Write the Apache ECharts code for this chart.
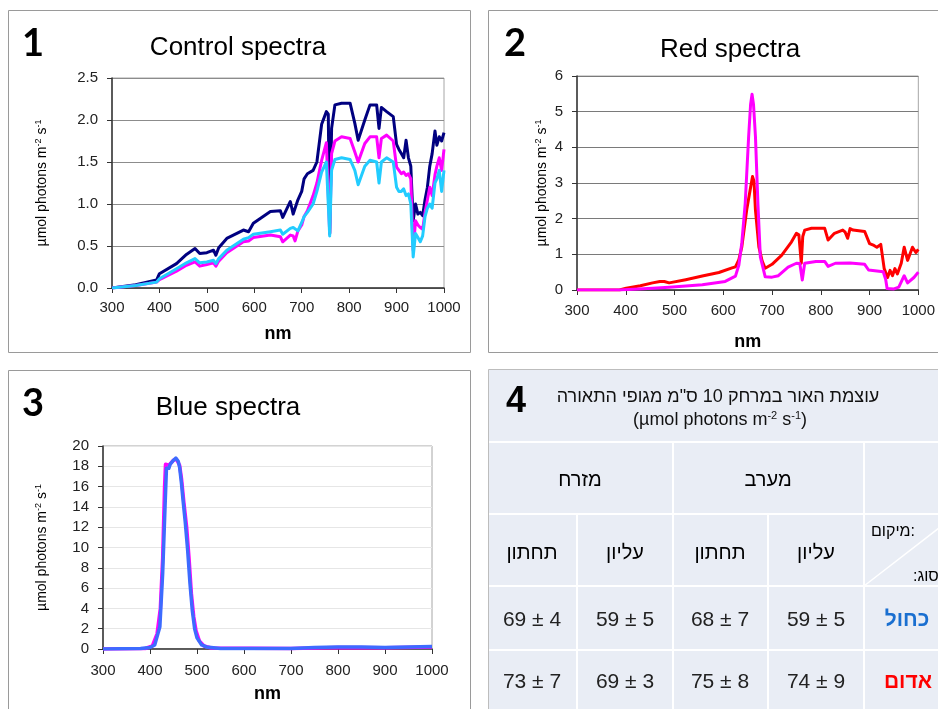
<!DOCTYPE html>
<html><head><meta charset="utf-8">
<script src="https://cdn.jsdelivr.net/npm/echarts@6/dist/echarts.min.js"></script>
<style>html,body{margin:0;padding:0;background:#fff;}#c{width:938px;height:709px;}</style>
</head><body><div id="c"></div>
<script>
// ---- Panel 1: Control spectra ----
const ctrlNm = [300,350,394,400,436,457,475,485,500,514,519,525,542,577,588,598,634,655,660,676,682,686,692,700,705,712,724,732,742,752,756,759,763,770,784,802,812,819,833,844,858,863,868,879,893,900,905,910,915,920,925,930,935,940,945,950,955,960,965,970,975,981,985,990,995,1000];
const ctrlNavy = [0,0.04,0.095,0.17,0.29,0.40,0.47,0.41,0.42,0.45,0.39,0.48,0.59,0.69,0.67,0.77,0.91,0.92,0.84,1.03,0.88,0.95,1.05,1.15,1.30,1.36,1.40,1.50,1.95,2.10,2.07,0.65,1.90,2.18,2.20,2.20,1.96,1.76,2.00,2.18,2.18,1.90,2.15,2.10,2.04,1.71,1.65,1.60,1.55,1.76,1.55,1.45,0.80,1.00,0.88,0.90,0.86,1.05,1.20,1.45,1.60,1.87,1.70,1.80,1.75,1.85];
const ctrlMagenta = [0,0.03,0.07,0.10,0.20,0.27,0.31,0.26,0.28,0.30,0.26,0.32,0.42,0.55,0.56,0.60,0.63,0.61,0.55,0.63,0.62,0.56,0.68,0.75,0.85,0.92,1.10,1.25,1.52,1.73,1.74,0.65,1.60,1.75,1.80,1.78,1.62,1.50,1.72,1.80,1.80,1.55,1.78,1.82,1.75,1.44,1.40,1.36,1.38,1.34,1.36,1.30,0.45,0.80,0.75,0.72,0.70,0.90,1.05,1.20,1.10,1.35,1.45,1.55,1.40,1.65];
const ctrlCyan = [0,0.03,0.07,0.11,0.23,0.30,0.35,0.30,0.31,0.33,0.29,0.35,0.45,0.58,0.60,0.64,0.67,0.69,0.64,0.71,0.72,0.73,0.68,0.78,0.85,0.90,1.00,1.15,1.38,1.50,1.50,0.62,1.40,1.53,1.55,1.53,1.40,1.23,1.45,1.52,1.50,1.25,1.50,1.55,1.50,1.20,1.15,1.15,1.18,1.10,1.12,1.00,0.37,0.65,0.60,0.55,0.62,0.85,0.95,1.00,0.95,1.25,1.30,1.40,1.15,1.40];

// ---- Panel 2: Red spectra ----
const redNm = [300,387,401,430,455,470,479,489,523,557,591,618,625,632,638,648,655,660,663,666,673,680,686,700,720,740,750,755,760,763,767,781,808,815,828,845,850,855,860,866,890,900,909,915,923,930,937,942,947,952,957,965,971,978,988,995,1000];
const redRed = [0,0,0.05,0.12,0.2,0.24,0.24,0.2,0.29,0.39,0.49,0.62,0.65,0.85,1.21,2.24,2.8,3.18,3.05,2.24,1.21,0.8,0.61,0.72,0.98,1.35,1.59,1.55,0.75,1.5,1.68,1.73,1.73,1.4,1.59,1.68,1.62,1.45,1.72,1.68,1.64,1.3,1.25,1.2,1.28,0.6,0.35,0.55,0.4,0.6,0.45,0.75,1.2,0.83,1.2,1.05,1.14];
const redPinkNm = [300,387,455,489,557,604,625,632,638,645,652,656,659,662,666,671,676,686,700,713,733,750,757,762,767,790,808,815,830,860,890,898,928,933,936,950,960,971,978,991,1000];
const redPink = [0,0,0.05,0.08,0.15,0.24,0.39,0.7,1.32,2.43,4.3,5.2,5.49,5.2,4.3,2.43,0.93,0.37,0.36,0.4,0.64,0.75,0.74,0.28,0.75,0.8,0.8,0.66,0.75,0.76,0.72,0.56,0.51,0.3,0.04,0.03,0.08,0.4,0.2,0.35,0.5];

// ---- Panel 3: Blue spectra ----
const blueNm = [300,380,400,410,421,427,432,435,440,443,450,455,460,463,467,470,475,480,485,490,495,500,510,520,550,700,750,800,850,900,950,1000];
const blueBlue = [0,0.05,0.15,0.4,2.2,7.5,14,17.8,17.8,18.2,18.6,18.8,18.5,17.9,16.3,14.8,12.5,9.8,6.5,3.8,2.0,1.1,0.4,0.2,0.05,0.05,0.15,0.2,0.2,0.15,0.2,0.25];
const bluePinkNm = [300,390,405,415,422,427,431,433,440,450,456,463,467,472,478,483,488,493,498,505,515,530,700,800,900,1000];
const bluePink = [0,0.05,0.3,1.5,4,9,16,18.2,18.1,18.6,18.7,18.1,16.8,14.5,12.0,9.0,5.5,3.2,1.8,0.8,0.3,0.1,0.05,0.15,0.12,0.2];

// ---- Panel 4: table ----
const tblTitle = 'עוצמת האור במרחק 10 ס"מ מגופי התאורה';
const tblSides = ['מזרח', 'מערב'];
const tblLevels = ['תחתון', 'עליון', 'תחתון', 'עליון'];
const tblRowHeads = ['כחול', 'אדום'];
const tblBlue = ['69 ± 4', '59 ± 5', '68 ± 7', '59 ± 5'];
const tblRed = ['73 ± 7', '69 ± 3', '75 ± 8', '74 ± 9'];
const tblCornerTop = 'מיקום:';
const tblCornerBottom = ':סוג';

const FONT = '"Liberation Sans", Arial, sans-serif';
const pairs = (xs, ys) => xs.map((x, i) => [x, ys[i]]);

const yName = '{a|µmol photons m}{s|-2}{a| s}{s|-1}';
const yNameStyle = {
  fontFamily: FONT, color: '#000',
  rich: {
    a: {fontSize: 14, lineHeight: 16, fontFamily: FONT, color: '#000'},
    s: {fontSize: 9, fontFamily: FONT, color: '#000', verticalAlign: 'top'}
  }
};

function xAx(gi, margin, gap) {
  return {
    type: 'value', gridIndex: gi, min: 300, max: 1000, interval: 100,
    axisLine: {show: true, onZero: false, lineStyle: {color: '#333', width: 1.5}},
    axisTick: {show: true, length: 5, lineStyle: {color: '#333'}},
    axisLabel: {fontSize: 15, color: '#222', fontFamily: FONT, margin: margin, formatter: v => String(v)},
    splitLine: {show: false},
    name: 'nm', nameLocation: 'middle', nameGap: gap,
    nameTextStyle: {fontSize: 18, fontWeight: 'bold', fontFamily: FONT, color: '#000'}
  };
}
function yAx(gi, max, interval, gridColor, gap, fmt) {
  return {
    type: 'value', gridIndex: gi, min: 0, max: max, interval: interval,
    axisLine: {show: true, lineStyle: {color: '#333', width: 1.5}},
    axisTick: {show: true, length: 5, lineStyle: {color: '#333'}},
    axisLabel: {fontSize: 15, color: '#222', fontFamily: FONT, margin: 14, formatter: fmt},
    splitLine: {show: true, lineStyle: {color: gridColor, width: 1}},
    name: yName, nameLocation: 'middle', nameGap: gap, nameTextStyle: yNameStyle
  };
}
function line(xi, data, color, w) {
  return {type: 'line', xAxisIndex: xi, yAxisIndex: xi, data: data, showSymbol: false, symbol: 'none',
    lineStyle: {color: color, width: w, join: 'round'}, itemStyle: {color: color}, animation: false, silent: true};
}
function txt(x, y, text, size, opts) {
  return {type: 'text', x: x, y: y, silent: true, style: Object.assign({
    text: text, fontSize: size, fontFamily: FONT, fill: '#000',
    align: 'center', verticalAlign: 'middle', textAlign: 'center', textVerticalAlign: 'middle'
  }, opts || {})};
}
function hline(x1, x2, y) { return {type: 'line', silent: true, shape: {x1: x1, y1: y, x2: x2, y2: y}, style: {stroke: '#fff', lineWidth: 2}}; }
function vline(x, y1, y2) { return {type: 'line', silent: true, shape: {x1: x, y1: y1, x2: x, y2: y2}, style: {stroke: '#fff', lineWidth: 2}}; }

const colX = [532, 625, 720, 816];
const graphics = [
  {type: 'rect', silent: true, shape: {x: 8.5, y: 10.5, width: 462, height: 342}, style: {fill: 'none', stroke: '#9a9a9a', lineWidth: 1}},
  {type: 'rect', silent: true, shape: {x: 488.5, y: 10.5, width: 460, height: 342}, style: {fill: 'none', stroke: '#9a9a9a', lineWidth: 1}},
  {type: 'rect', silent: true, shape: {x: 8.5, y: 370.5, width: 462, height: 350}, style: {fill: 'none', stroke: '#9a9a9a', lineWidth: 1}},
  {type: 'rect', silent: true, shape: {x: 488.5, y: 369.5, width: 460, height: 350}, style: {fill: '#e9edf5', stroke: '#bdbdbd', lineWidth: 1}},
  txt(33, 44, '1', 38, {fontWeight: 'bold', fontFamily: 'Lato, ' + FONT}),
  txt(515, 44, '2', 38, {fontWeight: 'bold', fontFamily: 'Lato, ' + FONT}),
  txt(33, 404, '3', 38, {fontWeight: 'bold', fontFamily: 'Lato, ' + FONT}),
  txt(516, 402, '4', 36, {fontWeight: 'bold'}),
  txt(238, 48, 'Control spectra', 26),
  txt(730, 50, 'Red spectra', 26),
  txt(228, 408, 'Blue spectra', 26),
  hline(489, 938, 442),
  vline(673, 442, 709), vline(864, 442, 709),
  hline(489, 938, 514),
  vline(577, 514, 709), vline(768, 514, 709),
  hline(489, 938, 586),
  hline(489, 938, 650),
  {type: 'line', silent: true, shape: {x1: 864, y1: 586, x2: 957, y2: 514}, style: {stroke: '#fff', lineWidth: 1.5}},
  txt(718, 397, tblTitle, 18, {fill: '#111'}),
  txt(720, 420, '{a|(µmol photons m}{s|-2}{a| s}{s|-1}{a|)}', 18, {rich: {
    a: {fontSize: 18, lineHeight: 20, fontFamily: FONT, fill: '#111'},
    s: {fontSize: 11, fontFamily: FONT, fill: '#111', verticalAlign: 'top'}}}),
  txt(580, 480, tblSides[0], 20),
  txt(768, 480, tblSides[1], 20),
  txt(893, 532, tblCornerTop, 16),
  txt(913, 577, tblCornerBottom, 16, {align: 'left', textAlign: 'left'}),
  txt(907, 620, tblRowHeads[0], 21, {fontWeight: 'bold', fill: '#1a6fd0'}),
  txt(908, 682, tblRowHeads[1], 21, {fontWeight: 'bold', fill: '#ff0000'})
];
tblLevels.forEach((t, i) => graphics.push(txt(colX[i], 553, t, 20)));
tblBlue.forEach((t, i) => graphics.push(txt(colX[i], 620, t, 21, {fill: '#222'})));
tblRed.forEach((t, i) => graphics.push(txt(colX[i], 682, t, 21, {fill: '#222'})));

const chart = echarts.init(document.getElementById('c'), null, {renderer: 'canvas'});
chart.setOption({
  animation: false,
  backgroundColor: '#fff',
  grid: [
    {left: 112, top: 78, width: 332, height: 210, show: true, borderColor: '#a6a6a6', borderWidth: 1, backgroundColor: 'transparent'},
    {left: 577, top: 76, width: 344, height: 214, show: true, borderColor: '#a6a6a6', borderWidth: 1, backgroundColor: 'transparent'},
    {left: 103, top: 446, width: 329, height: 203, show: true, borderColor: '#a6a6a6', borderWidth: 1, backgroundColor: 'transparent'}
  ],
  xAxis: [xAx(0, 12, 37), xAx(1, 13, 43), xAx(2, 14, 36)],
  yAxis: [
    yAx(0, 2.5, 0.5, '#8c8c8c', 62, v => v.toFixed(1)),
    yAx(1, 6, 1, '#7a7a7a', 27, v => String(v)),
    yAx(2, 20, 2, '#e6e6e6', 53, v => String(v))
  ],
  series: [
    line(0, pairs(ctrlNm, ctrlNavy), '#000080', 3),
    line(0, pairs(ctrlNm, ctrlMagenta), '#ff00ff', 3),
    line(0, pairs(ctrlNm, ctrlCyan), '#22ccff', 3),
    line(1, pairs(redNm, redRed), '#ff0000', 3),
    line(1, pairs(redPinkNm, redPink), '#ff00ff', 3),
    line(2, pairs(bluePinkNm, bluePink), '#ff00ff', 3.5),
    line(2, pairs(blueNm, blueBlue), '#3d6bff', 3.5)
  ],
  graphic: {elements: graphics}
});
</script>
</body></html>
